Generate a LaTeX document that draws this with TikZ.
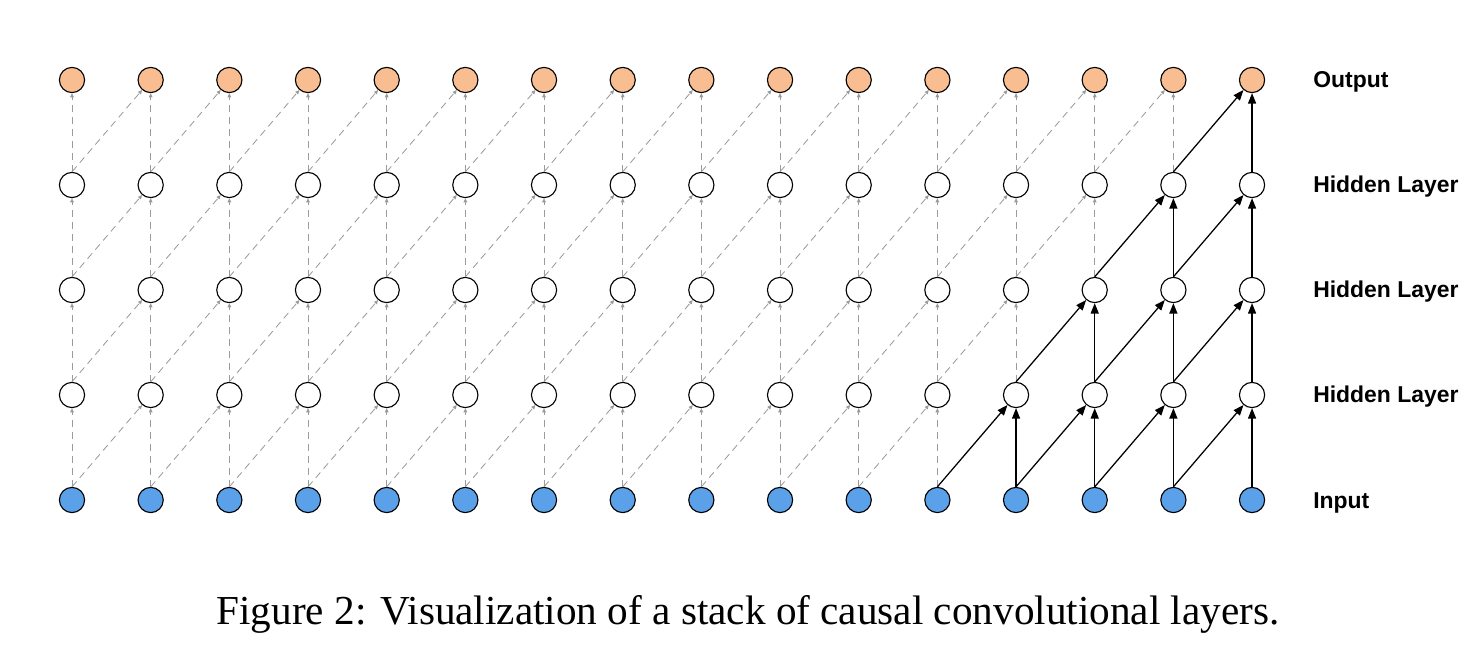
\documentclass[tikz,border=0pt]{standalone}
\usepackage{fontspec}
\setmainfont{Liberation Serif}
\setsansfont{Liberation Sans}
\usetikzlibrary{arrows.meta}
\definecolor{outorange}{RGB}{248,190,146}
\definecolor{inblue}{RGB}{91,161,234}
\definecolor{linkgray}{RGB}{155,155,155}
\tikzset{
  unit/.style={circle, draw, line width=0.8pt, minimum size=0.63cm, inner sep=0pt, fill=white},
  inunit/.style={unit, fill=inblue},
  outunit/.style={unit, fill=outorange},
  dashlink/.style={linkgray, line width=0.6pt, dash pattern=on 5pt off 3.5pt, -{Triangle[length=3pt,width=2.6pt]}},
  solidlink/.style={black, line width=0.9pt, -{Triangle[length=0.26cm,width=0.2cm]}},
  layerlabel/.style={anchor=base west, inner sep=0pt, font=\sffamily\bfseries\fontsize{16.3}{19}\selectfont}
}
\begin{document}
\begin{tikzpicture}[x=0.025cm,y=-0.025cm]
\useasboundingbox (0,0) rectangle (1480,668);
% units: row 0 = input, row 4 = output
\foreach \c in {0,...,15}{
  \node[inunit] (n0-\c) at (72+78.67*\c,500) {};
  \node[unit] (n1-\c) at (72+78.67*\c,395) {};
  \node[unit] (n2-\c) at (72+78.67*\c,290) {};
  \node[unit] (n3-\c) at (72+78.67*\c,185) {};
  \node[outunit] (n4-\c) at (72+78.67*\c,80) {};
}
% links, solid where they feed the last output
\foreach \r in {0,...,3}{
  \pgfmathtruncatemacro\up{\r+1}
  \pgfmathtruncatemacro\lim{12+\r}
  \foreach \c in {0,...,15}{
    \ifnum\c<\lim
      \draw[dashlink] (n\r-\c.north) -- (n\up-\c);
    \else
      \draw[solidlink] (n\r-\c.north) -- (n\up-\c);
    \fi
    \ifnum\c<15
      \pgfmathtruncatemacro\nx{\c+1}
      \ifnum\nx<\lim
        \draw[dashlink] (n\r-\c.north) -- (n\up-\nx);
      \else
        \draw[solidlink] (n\r-\c.north) -- (n\up-\nx);
      \fi
    \fi
  }
}
\node[layerlabel] (lout) at (1313,88) {Output};
\node[layerlabel] (lh3) at (1313,193) {Hidden Layer};
\node[layerlabel] (lh2) at (1313,298) {Hidden Layer};
\node[layerlabel] (lh1) at (1313,403) {Hidden Layer};
\node[layerlabel] (lin) at (1313,508) {Input};
\node[anchor=base, inner sep=0pt, font=\fontsize{29.3}{34}\selectfont] (caption) at (748,624) {Figure 2: Visualization of a stack of causal convolutional layers.};
\end{tikzpicture}
\end{document}
